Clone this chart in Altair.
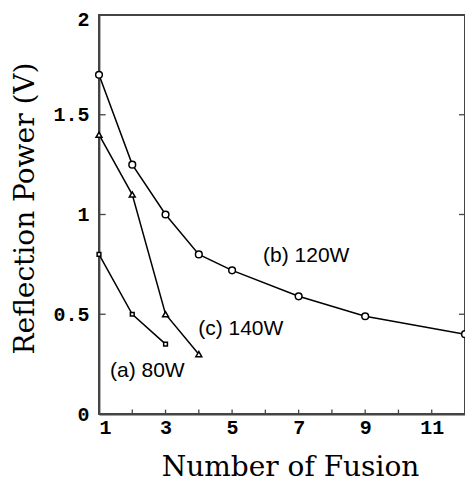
import altair as alt
import pandas as pd

# data
b_x = [1, 2, 3, 4, 5, 7, 9, 12]
b_y = [1.70, 1.25, 1.00, 0.80, 0.72, 0.59, 0.49, 0.40]
c_x = [1, 2, 3, 4]
c_y = [1.40, 1.10, 0.50, 0.30]
a_x = [1, 2, 3]
a_y = [0.80, 0.50, 0.35]

labels = ["(b) 120W", "(c) 140W", "(a) 80W"]
label_x = [5.93, 3.98, 1.33]
label_y = [0.762, 0.396, 0.185]

x_tick_labels = [1, 3, 5, 7, 9, 11]
x_minor = list(range(1, 13))
y_ticks = [0, 0.5, 1, 1.5, 2]

XD = [1, 12]
YD = [0, 2]

W, H = 366, 399
FRAME = "#444444"

df_b = pd.DataFrame({"x": b_x, "y": b_y})
df_c = pd.DataFrame({"x": c_x, "y": c_y})
df_a = pd.DataFrame({"x": a_x, "y": a_y})
df_lab = pd.DataFrame({"x": label_x, "y": label_y, "t": labels})

xs = alt.Scale(domain=XD, nice=False, zero=False)
ys = alt.Scale(domain=YD, nice=False)

serif = "DejaVu Serif"
mono = "Liberation Mono"

xax = alt.Axis(values=x_tick_labels, title="Number of Fusion", grid=False, ticks=False,
               domain=True, domainColor=FRAME, domainWidth=1.8,
               labelFont=mono, labelFontSize=20, labelFontWeight="bold",
               labelColor="black", labelPadding=3, titleFont=serif, titleFontSize=28,
               titleFontWeight="normal", titleColor="black", titleX=191, titleY=61,
               titleBaseline="alphabetic", titleAlign="center")
yax = alt.Axis(values=y_ticks, format=".1~f", title="Reflection Power (V)", grid=False,
               ticks=False, domain=True, domainColor=FRAME, domainWidth=1.8,
               labelFont=mono, labelFontSize=20,
               labelFontWeight="bold", labelColor="black", labelPadding=10,
               labelOffset={"condition": {"test": "datum.value == 2", "value": 4}, "value": 0},
               titleFont=serif, titleFontSize=28, titleFontWeight="normal",
               titleColor="black", titleX=-74, titleY=193, titleBaseline="middle",
               titleAlign="center", titleAngle=-90)


def X():
    return alt.X("x:Q", scale=xs)


def Y():
    return alt.Y("y:Q", scale=ys)


# frame as a closed polyline through the scale corners
df_frame = pd.DataFrame({
    "x": [XD[0], XD[1], XD[1], XD[0], XD[0]],
    "y": [YD[0], YD[0], YD[1], YD[1], YD[0]],
    "o": [0, 1, 2, 3, 4],
})
frame = alt.Chart(df_frame).mark_line(color=FRAME, strokeWidth=1.8).encode(
    x=alt.X("x:Q", scale=xs, axis=xax), y=alt.Y("y:Q", scale=ys, axis=yax), order="o:Q")

# inward ticks, each a two-point segment
tx, ty, tg = [], [], []
for i, v in enumerate(x_minor):
    tx += [v, v]
    ty += [YD[0], YD[0] + 0.022]
    tg += [f"x{i}", f"x{i}"]
for i, v in enumerate(y_ticks):
    tx += [XD[0], XD[0] + 0.2]
    ty += [v, v]
    tg += [f"l{i}", f"l{i}"]
    tx += [XD[1] - 0.18, XD[1]]
    ty += [v, v]
    tg += [f"r{i}", f"r{i}"]
df_ticks = pd.DataFrame({"x": tx, "y": ty, "g": tg})
ticks = alt.Chart(df_ticks).mark_line(color=FRAME, strokeWidth=1.3).encode(
    x=X(), y=Y(), detail="g:N")

line_b = alt.Chart(df_b).mark_line(color="black", strokeWidth=1.5).encode(x=X(), y=Y())
line_c = alt.Chart(df_c).mark_line(color="black", strokeWidth=1.5).encode(x=X(), y=Y())
line_a = alt.Chart(df_a).mark_line(color="black", strokeWidth=1.5).encode(x=X(), y=Y())

pts_b = alt.Chart(df_b).mark_point(shape="circle", size=45, filled=False, color="black",
                                   fill="white", fillOpacity=1, strokeWidth=1.5).encode(x=X(), y=Y())
pts_c = alt.Chart(df_c).mark_point(shape="triangle-up", size=35, filled=False, color="black",
                                   fill="white", fillOpacity=1, strokeWidth=1.5).encode(x=X(), y=Y())
pts_a = alt.Chart(df_a).mark_point(shape="square", size=14, filled=False, color="black",
                                   fill="white", fillOpacity=1, strokeWidth=1.5).encode(x=X(), y=Y())

text = alt.Chart(df_lab).mark_text(font="Liberation Sans", fontSize=21, align="left",
                                   baseline="alphabetic", color="black").encode(
    x=X(), y=Y(), text="t:N")

chart = alt.layer(frame, line_b, line_c, line_a, pts_b, pts_c, pts_a, text, ticks).properties(
    width=W, height=H,
    autosize=alt.AutoSizeParams(type="none"),
    padding={"left": 91, "top": 7, "right": 0, "bottom": 67},
    background="white",
).configure_view(stroke=FRAME, strokeWidth=1.8)

chart.save("out.html", embed_options={"renderer": "svg", "actions": False})
